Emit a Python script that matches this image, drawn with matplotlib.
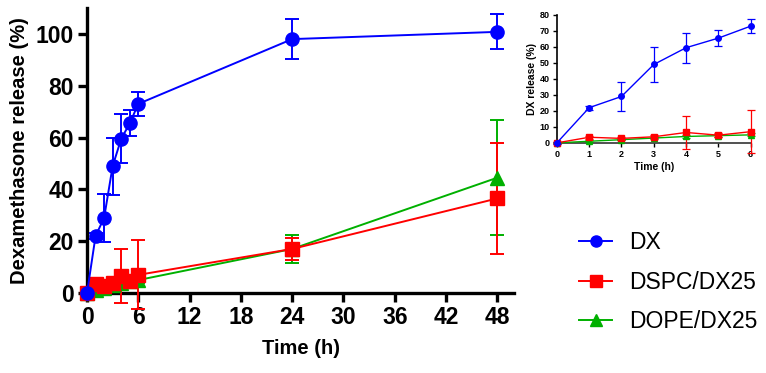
import numpy as np
import matplotlib
matplotlib.use('Agg')
import matplotlib.pyplot as plt
from matplotlib.lines import Line2D

plt.rcParams['font.family'] = ['Liberation Sans', 'DejaVu Sans']

# data
t_all = [0, 1, 2, 3, 4, 5, 6, 24, 48]
dx = [0, 22, 29, 49, 59.5, 65.5, 73, 98, 100.8]
dx_err = [0.5, 1.2, 9.2, 11, 9.5, 5, 4.5, 7.6, 6.7]
dspc = [0, 3.5, 2.8, 3.8, 6.5, 4.8, 7, 17, 36.5]
dspc_err = [0.5, 1, 1, 1, 10.5, 1.2, 13.3, 4.1, 21.4]
dope = [0, 1, 2, 3, 4, 4.5, 5, 17, 44.5]
dope_err = [0.3, 0.5, 0.5, 0.6, 0.8, 0.8, 1, 5.3, 22.2]

labels = ['DX', 'DSPC/DX25', 'DOPE/DX25']
colors = ['#0000ff', '#ff0000', '#00b000']
markers = ['o', 's', '^']
series = [(dx, dx_err), (dspc, dspc_err), (dope, dope_err)]

fig = plt.figure(figsize=(7.66, 3.73), dpi=100)
ax = fig.add_axes([0.1136, 0.2145, 0.558, 0.764])

for (y, e), c, m in zip(series[::-1], colors[::-1], markers[::-1]):
    ax.errorbar(t_all, y, yerr=e, color=c, marker=m, ms=9.5, lw=1.4,
                elinewidth=1.4, capsize=5, capthick=1.4, clip_on=False, zorder=3)

ax.set_xlim(0, 50)
ax.set_ylim(0, 110)
ax.set_xticks([0, 6, 12, 18, 24, 30, 36, 42, 48])
ax.set_yticks([0, 20, 40, 60, 80, 100])
for s in ['top', 'right']:
    ax.spines[s].set_visible(False)
for s in ['left', 'bottom']:
    ax.spines[s].set_linewidth(2.4)
ax.tick_params(width=2.4, length=6.5, labelsize=16.5, pad=3)
for lbl in ax.get_xticklabels() + ax.get_yticklabels():
    lbl.set_fontweight('bold')
ax.set_xlabel('Time (h)', fontsize=14.5, fontweight='bold', labelpad=7)
ax.set_ylabel('Dexamethasone release (%)', fontsize=14.5, fontweight='bold', labelpad=5)

handles = [Line2D([], [], color=c, marker=m, ms=8, lw=1.4) for c, m in zip(colors, markers)]
fig.legend(handles, labels, loc='center left', bbox_to_anchor=(0.7296, 0.243),
           frameon=False, fontsize=16.5, handlelength=1.4, labelspacing=0.72,
           handletextpad=0.75)

# inset
axi = fig.add_axes([0.727, 0.617, 0.253, 0.343])
for (y, e), c, m in zip(series[::-1], colors[::-1], markers[::-1]):
    axi.errorbar(t_all[:7], y[:7], yerr=e[:7], color=c, marker=m, ms=4, lw=1,
                 elinewidth=0.9, capsize=3, capthick=0.9, clip_on=False, zorder=3)
axi.set_xlim(0, 6)
axi.set_ylim(0, 80)
axi.set_xticks(range(7))
axi.set_yticks(range(0, 81, 10))
for s in ['top', 'right']:
    axi.spines[s].set_visible(False)
for s in ['left', 'bottom']:
    axi.spines[s].set_linewidth(1.2)
axi.spines['bottom'].set_color('#333333')
axi.tick_params(width=1, length=3, labelsize=6.5, pad=2)
for lbl in axi.get_xticklabels() + axi.get_yticklabels():
    lbl.set_fontweight('bold')
axi.set_xlabel('Time (h)', fontsize=7.5, fontweight='bold', labelpad=2)
axi.set_ylabel('DX release (%)', fontsize=7.5, fontweight='bold', labelpad=2)

fig.savefig('out.png', dpi=100, facecolor='white')
